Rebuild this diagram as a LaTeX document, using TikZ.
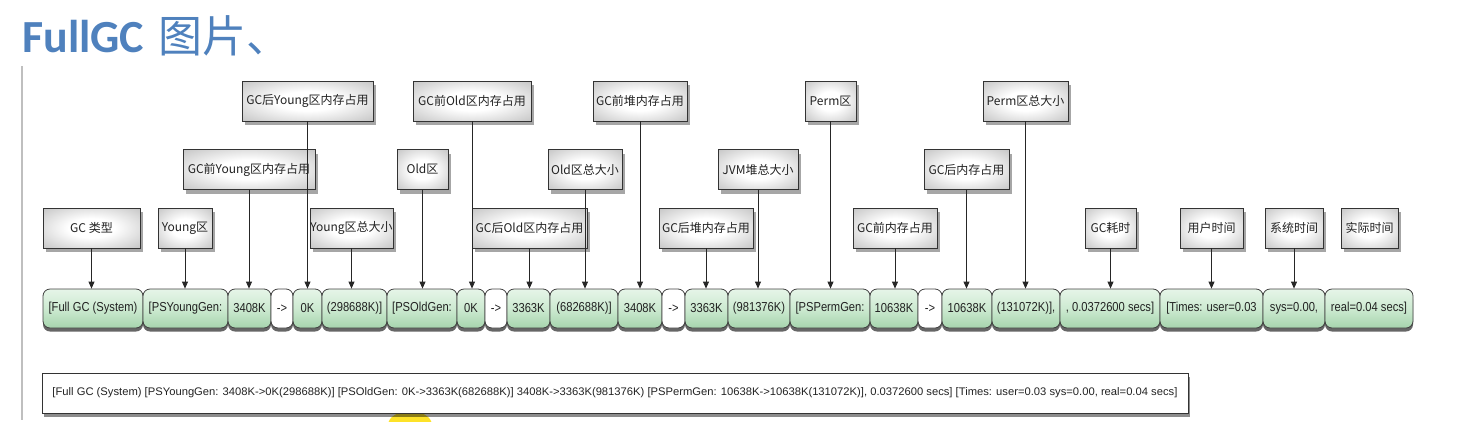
\documentclass[tikz,border=0pt]{standalone}
\usepackage{fontspec}
\usepackage{graphicx}
\setmainfont{Liberation Sans}
\newfontfamily\cjk{Noto Sans CJK SC}
\newfontfamily\segf[FakeStretch=0.86]{Liberation Sans}
\newfontfamily\titlef{Carlito}
\usetikzlibrary{shadows,arrows.meta}
\definecolor{titleblue}{HTML}{4F81BD}
\definecolor{segtop}{HTML}{E6F5E8}
\definecolor{segmid}{HTML}{CDEAD1}
\definecolor{segbot}{HTML}{A6D4AD}
\definecolor{ink}{HTML}{222222}
\pgfdeclareradialshading{lblshade}{\pgfpoint{0bp}{0bp}}{%
  color(0bp)=(white); color(12bp)=(white); color(33bp)=(black!20); color(50bp)=(black!38); color(75bp)=(black!46)}
\tikzset{
  lbl/.style={draw=black!80, line width=0.9pt, shading=lblshade,
    minimum height=40, inner sep=0, text=ink,
    font=\cjk\fontsize{12}{14}\selectfont,
    drop shadow={shadow xshift=3pt, shadow yshift=-4pt, opacity=0.35, fill=black}},
  seg/.style={draw=black!75, line width=0.8pt, rounded corners=7pt,
    top color=segtop, bottom color=segbot, middle color=segmid,
    minimum height=39, inner sep=0, text=ink,
    font=\segf\fontsize{13}{15}\selectfont,
    drop shadow={shadow xshift=0pt, shadow yshift=-3.5pt, opacity=0.6, fill=black}},
  wseg/.style={seg, top color=white, bottom color=white, middle color=white},
  arr/.style={draw=black!85, line width=0.8pt, -{Triangle[length=7pt,width=6pt]}},
  logbox/.style={draw=black!80, line width=0.9pt, fill=white, minimum width=1146,
    minimum height=40, inner sep=0, text=ink,
    drop shadow={shadow xshift=2pt, shadow yshift=-3.5pt, opacity=0.45, fill=black}}
}
\begin{document}
\begin{tikzpicture}[x=1pt,y=-1pt]
\useasboundingbox (0,0) rectangle (1474,445);
% title
\node[anchor=base west, inner sep=0, text=titleblue] (title) at (22,52)
  {\titlef\bfseries\fontsize{46}{50}\selectfont FullGC\hspace{14pt}{\cjk\mdseries\fontsize{44}{50}\selectfont 图片、}};
% left frame line
\draw[black!25, line width=2pt] (22,66) -- (22,420);
% yellow cursor highlight
\begin{scope}
  \clip (380,413) rectangle (440,421);
  \fill[yellow!80!orange, opacity=0.85] (410,425) ellipse (22 and 14);
\end{scope}

% top row labels
\node[lbl, minimum width=131] (tA) at (307.5,101) {GC后Young区内存占用};
\node[lbl, minimum width=118] (tB) at (472,101) {GC前Old区内存占用};
\node[lbl, minimum width=94]  (tC) at (640,101) {GC前堆内存占用};
\node[lbl, minimum width=51]  (tD) at (830.5,101) {Perm区};
\node[lbl, minimum width=85]  (tE) at (1025.5,101) {Perm区总大小};
% middle row labels
\node[lbl, minimum width=132] (mA) at (249,169.5) {GC前Young区内存占用};
\node[lbl, minimum width=51]  (mB) at (422.5,169.5) {Old区};
\node[lbl, minimum width=74]  (mC) at (585,169.5) {Old区总大小};
\node[lbl, minimum width=80]  (mD) at (758,169.5) {JVM堆总大小};
\node[lbl, minimum width=85]  (mE) at (966.5,169.5) {GC后内存占用};
% lower row labels
\node[lbl, minimum width=97]  (bA) at (91.5,228) {GC 类型};
\node[lbl, minimum width=54]  (bB) at (185,228) {Young区};
\node[lbl, minimum width=83]  (bC) at (351.5,228) {Young区总大小};
\node[lbl, minimum width=115] (bD) at (529.5,228) {GC后Old区内存占用};
\node[lbl, minimum width=94]  (bE) at (706,228) {GC后堆内存占用};
\node[lbl, minimum width=84]  (bF) at (895,228) {GC前内存占用};
\node[lbl, minimum width=51]  (bG) at (1110.5,228) {GC耗时};
\node[lbl, minimum width=63]  (bH) at (1211.5,228) {用户时间};
\node[lbl, minimum width=58]  (bI) at (1294,228) {系统时间};
\node[lbl, minimum width=57]  (bJ) at (1369.5,228) {实际时间};

% segments
\node[seg,  minimum width=100] (s1)  at (93,308.5)    {[Full GC (System)};
\node[seg,  minimum width=85]  (s2)  at (185.5,308.5) {[PSYoungGen:};
\node[seg,  minimum width=43]  (s3)  at (249.5,308.5) {3408K};
\node[wseg, minimum width=22]  (s4)  at (282,308.5)   {->};
\node[seg,  minimum width=29]  (s5)  at (307.5,308.5) {0K};
\node[seg,  minimum width=65]  (s6)  at (354.5,308.5) {(298688K)]};
\node[seg,  minimum width=70]  (s7)  at (422,308.5)   {[PSOldGen:};
\node[seg,  minimum width=28]  (s8)  at (471,308.5)   {0K};
\node[wseg, minimum width=22]  (s9)  at (496,308.5)   {->};
\node[seg,  minimum width=43]  (s10) at (528.5,308.5) {3363K};
\node[seg,  minimum width=68]  (s11) at (584,308.5)   {(682688K)]};
\node[seg,  minimum width=44]  (s12) at (640,308.5)   {3408K};
\node[wseg, minimum width=23]  (s13) at (673.5,308.5) {->};
\node[seg,  minimum width=43]  (s14) at (706.5,308.5) {3363K};
\node[seg,  minimum width=62]  (s15) at (759,308.5)   {(981376K)};
\node[seg,  minimum width=80]  (s16) at (830,308.5)   {[PSPermGen:};
\node[seg,  minimum width=48]  (s17) at (894,308.5)   {10638K};
\node[wseg, minimum width=24]  (s18) at (930,308.5)   {->};
\node[seg,  minimum width=50]  (s19) at (967,308.5)   {10638K};
\node[seg,  minimum width=68]  (s20) at (1026,308.5)  {(131072K)],};
\node[seg,  minimum width=100] (s21) at (1110,308.5)  {, 0.0372600 secs]};
\node[seg,  minimum width=103] (s22) at (1211.5,308.5){[Times: user=0.03};
\node[seg,  minimum width=62]  (s23) at (1294,308.5)  {sys=0.00,};
\node[seg,  minimum width=88]  (s24) at (1369,308.5)  {real=0.04 secs]};

% log line
\node[logbox] (log) at (615,393)
  {\resizebox{1125pt}{\height}{\fontsize{11}{13}\selectfont [Full GC (System) [PSYoungGen: 3408K->0K(298688K)] [PSOldGen: 0K->3363K(682688K)] 3408K->3363K(981376K) [PSPermGen: 10638K->10638K(131072K)], 0.0372600 secs] [Times: user=0.03 sys=0.00, real=0.04 secs]}};

% connectors
\draw[arr] (bA.south) -- (bA.south |- s1.north);
\draw[arr] (bB.south) -- (bB.south |- s2.north);
\draw[arr] (mA.south) -- (mA.south |- s3.north);
\draw[arr] (tA.south) -- (tA.south |- s5.north);
\draw[arr] (bC.south) -- (bC.south |- s6.north);
\draw[arr] (mB.south) -- (mB.south |- s7.north);
\draw[arr] (tB.south) -- (tB.south |- s8.north);
\draw[arr] (bD.south) -- (bD.south |- s10.north);
\draw[arr] (mC.south) -- (mC.south |- s11.north);
\draw[arr] (tC.south) -- (tC.south |- s12.north);
\draw[arr] (bE.south) -- (bE.south |- s14.north);
\draw[arr] (mD.south) -- (mD.south |- s15.north);
\draw[arr] (tD.south) -- (tD.south |- s16.north);
\draw[arr] (bF.south) -- (bF.south |- s17.north);
\draw[arr] (mE.south) -- (mE.south |- s19.north);
\draw[arr] (tE.south) -- (tE.south |- s20.north);
\draw[arr] (bG.south) -- (bG.south |- s21.north);
\draw[arr] (bH.south) -- (bH.south |- s22.north);
\draw[arr] (bI.south) -- (bI.south |- s23.north);
\end{tikzpicture}
\end{document}
